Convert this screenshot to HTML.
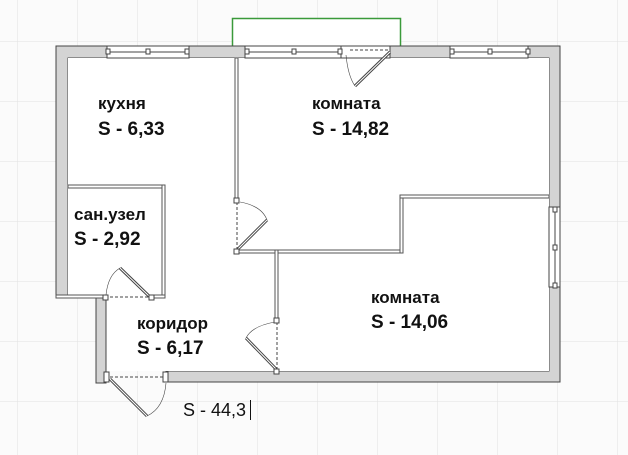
<!DOCTYPE html>
<html><head><meta charset="utf-8"><style>
html,body{margin:0;padding:0;background:#fff}
svg{display:block}
text{font-family:"Liberation Sans",sans-serif;font-weight:bold;fill:#111}
</style></head><body>
<svg width="628" height="455" viewBox="0 0 628 455" xmlns="http://www.w3.org/2000/svg">
<defs>
<pattern id="g" width="60" height="60" patternUnits="userSpaceOnUse" x="18" y="-18">
<path d="M60 0V60M0 60H60" stroke="#e2e2e2" stroke-width="1" fill="none"/>
</pattern>
</defs>
<rect width="628" height="455" fill="#fbfbfb"/>
<rect width="628" height="455" fill="url(#g)"/>
<!-- balcony -->
<rect x="232.5" y="18.5" width="168" height="28" fill="#fff" stroke="#3a9a3a" stroke-width="1.5"/>
<!-- outer walls -->
<path d="M56 46H560V382H166V371H549V58H68V297H56Z" fill="#d4d4d4" stroke="#444" stroke-width="1"/>
<!-- floor -->
<path d="M68 58H549V371H106V297H68Z" fill="#fff"/>
<rect x="96" y="297" width="10" height="86" fill="#d4d4d4" stroke="#444"/>
<!-- windows on top -->
<g fill="#fff" stroke="#444">
<rect x="107" y="46" width="82" height="12"/>
<rect x="245" y="46" width="96" height="12"/>
<rect x="341" y="46" width="49" height="12"/>
<rect x="450" y="46" width="78" height="12"/>
<rect x="549" y="207" width="11" height="80"/>
</g>
<g stroke="#444" fill="#fff">
<line x1="107" y1="52" x2="189" y2="52"/><line x1="245" y1="52" x2="341" y2="52"/><line x1="450" y1="52" x2="528" y2="52"/>
<line x1="555" y1="207" x2="555" y2="287"/>
<rect x="106" y="49" width="4" height="5"/><rect x="146" y="49" width="4" height="5"/><rect x="185" y="49" width="4" height="5"/>
<rect x="245" y="49" width="4" height="5"/><rect x="292" y="49" width="4" height="5"/><rect x="338" y="49" width="4" height="5"/>
<rect x="450" y="49" width="4" height="5"/><rect x="488" y="49" width="4" height="5"/><rect x="526" y="49" width="4" height="5"/>
<rect x="553" y="207" width="4" height="5"/><rect x="553" y="245" width="4" height="5"/><rect x="553" y="283" width="4" height="5"/>
</g>
<!-- interior walls -->
<g fill="#fff" stroke="#555" stroke-width="1">
<rect x="68" y="185" width="97" height="3"/>
<rect x="162" y="185" width="3" height="113"/>
<rect x="56" y="295" width="50" height="3"/>
<rect x="150" y="295" width="15" height="3"/>
<rect x="235" y="58" width="3" height="142"/>
<rect x="235" y="250" width="168" height="3"/>
<rect x="400" y="195" width="3" height="58"/>
<rect x="400" y="195" width="149" height="3"/>
<rect x="275" y="250" width="3" height="70"/>
</g>
<!-- doors -->
<g fill="none" stroke="#444" stroke-width="1">
<line x1="350" y1="50" x2="390" y2="50" stroke-dasharray="3,2"/>
<path d="M390 52L355 86" stroke-width="3"/><path d="M390 52L355 86" stroke="#fff" stroke-width="1"/>
<path d="M346 55Q348 76 355 86" stroke-width="0.6"/>
<line x1="237" y1="202" x2="237" y2="250" stroke-dasharray="3,2"/>
<path d="M237 250L267 220" stroke-width="3"/><path d="M237 250L267 220" stroke="#fff"/>
<path d="M240 202Q262 206 267 220" stroke-width="0.6"/>
<line x1="110" y1="297" x2="150" y2="297" stroke-dasharray="3,2"/>
<path d="M150 297L120 268" stroke-width="3"/><path d="M150 297L120 268" stroke="#fff"/>
<path d="M106 295Q108 275 120 268" stroke-width="0.6"/>
<line x1="277" y1="322" x2="277" y2="370" stroke-dasharray="3,2"/>
<path d="M277 370L246 338" stroke-width="3"/><path d="M277 370L246 338" stroke="#fff"/>
<path d="M275 322Q252 326 246 338" stroke-width="0.6"/>
<line x1="110" y1="377" x2="166" y2="377" stroke-dasharray="3,2"/>
<path d="M110 379L147 416" stroke-width="3"/><path d="M110 379L147 416" stroke="#fff"/>
<path d="M166 383Q164 408 147 416" stroke-width="0.6"/>
</g>
<g fill="#fff" stroke="#444">
<rect x="234" y="198" width="5" height="5"/><rect x="234" y="249" width="5" height="5"/>
<rect x="274" y="318" width="5" height="5"/><rect x="274" y="369" width="5" height="5"/>
<rect x="103" y="295" width="5" height="5"/><rect x="149" y="295" width="5" height="5"/>
<rect x="104" y="372" width="5" height="10"/><rect x="163" y="372" width="5" height="10"/>
</g>
<!-- labels -->
<text x="98" y="109" font-size="17">кухня</text>
<text x="98" y="135" font-size="19">S - 6,33</text>
<text x="312" y="109" font-size="17">комната</text>
<text x="312" y="135" font-size="19">S - 14,82</text>
<text x="74" y="220" font-size="17">сан.узел</text>
<text x="74" y="245" font-size="19">S - 2,92</text>
<text x="137" y="329" font-size="17">коридор</text>
<text x="137" y="354" font-size="19">S - 6,17</text>
<text x="371" y="303" font-size="17">комната</text>
<text x="371" y="328" font-size="19">S - 14,06</text>
<text x="183" y="416" font-size="18" style="font-weight:normal">S - 44,3</text>
<line x1="250.5" y1="400" x2="250.5" y2="420" stroke="#111"/>
</svg>
</body></html>
